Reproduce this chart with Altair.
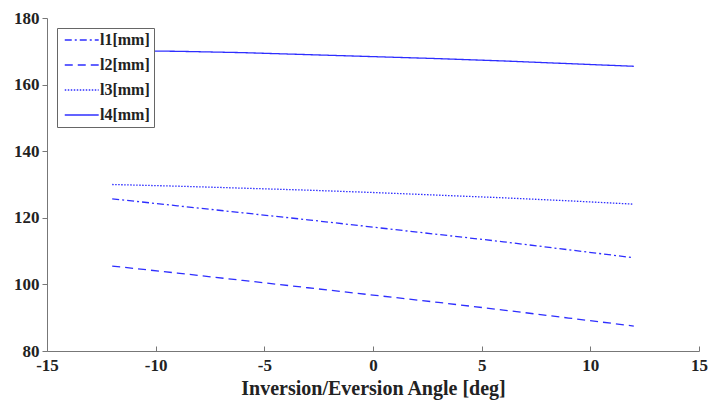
import altair as alt
import pandas as pd

angles = [-12, -9, -6, -3, 0, 3, 6, 9, 12]
l1 = [125.7, 123.6, 121.5, 119.4, 117.2, 115.0, 112.8, 110.4, 108.0]
l2 = [105.5, 103.4, 101.2, 99.0, 96.8, 94.6, 92.3, 89.9, 87.5]
l3 = [130.0, 129.5, 128.9, 128.3, 127.6, 126.8, 126.0, 125.1, 124.1]
l4 = [170.2, 170.0, 169.6, 169.0, 168.4, 167.8, 167.1, 166.3, 165.5]
series_names = ["l1[mm]", "l2[mm]", "l3[mm]", "l4[mm]"]
x_ticks = [-15, -10, -5, 0, 5, 10, 15]
y_ticks = [80, 100, 120, 140, 160, 180]

rows = []
for name, vals in zip(series_names, [l1, l2, l3, l4]):
    for a, v in zip(angles, vals):
        rows.append({"angle": a, "value": v, "series": name})
df = pd.DataFrame(rows)

FONT = "Liberation Serif"
BLUE = "#2e2eff"
W, H = 652, 333

xscale = alt.Scale(domain=[-15, 15], nice=False)
yscale = alt.Scale(domain=[80, 180], nice=False)

lines = alt.Chart(df).mark_line(strokeWidth=1.3, color=BLUE).encode(
    x=alt.X("angle:Q", scale=xscale,
            axis=alt.Axis(values=x_ticks, ticks=False, grid=False, labelFlush=False,
                          labelExpr="'' + datum.value",
                          title="Inversion/Eversion Angle [deg]",
                          labelFont=FONT, labelFontSize=17, labelFontWeight="bold",
                          labelColor="#222", labelPadding=6,
                          titleFont=FONT, titleFontSize=20, titleFontWeight="bold",
                          titleColor="#222", titlePadding=5,
                          domainColor="#777")),
    y=alt.Y("value:Q", scale=yscale,
            axis=alt.Axis(values=y_ticks, grid=False, title=None, tickSize=5,
                          labelFlush=False, labelExpr="'' + datum.value",
                          tickColor="#777", domainColor="#777",
                          labelFont=FONT, labelFontSize=17, labelFontWeight="bold",
                          labelColor="#222", labelPadding=3)),
    strokeDash=alt.StrokeDash(
        "series:N",
        scale=alt.Scale(domain=series_names,
                        range=[[7, 3, 2, 3], [8, 5], [1.5, 1.5], [1, 0]]),
        legend=alt.Legend(title=None, orient="none", legendX=10, legendY=10,
                          fillColor="white", strokeColor="#666", padding=4,
                          symbolType="M-1,0H7", symbolSize=72,
                          symbolStrokeColor=BLUE, symbolStrokeWidth=1.3,
                          labelFont=FONT, labelFontSize=16, labelFontWeight="bold",
                          labelColor="#222", labelOffset=23, rowPadding=9,
                          labelLimit=200),
    ),
)

ticks_layer = alt.Chart(df).mark_point(opacity=0).encode(
    x=alt.X("angle:Q", scale=xscale,
            axis=alt.Axis(orient="top", offset=-H, values=x_ticks, labels=False,
                          domain=False, grid=False, title=None, tickSize=5,
                          tickColor="#777")),
    y=alt.Y("value:Q", scale=yscale),
)

chart = alt.layer(lines, ticks_layer).resolve_axis(x="independent").properties(
    width=W, height=H,
    autosize=alt.AutoSizeParams(type="none"),
    padding={"left": 39, "top": 10, "right": 9, "bottom": 50},
).configure_view(stroke=None)

chart.save("out.html", embed_options={"renderer": "svg", "actions": False})
